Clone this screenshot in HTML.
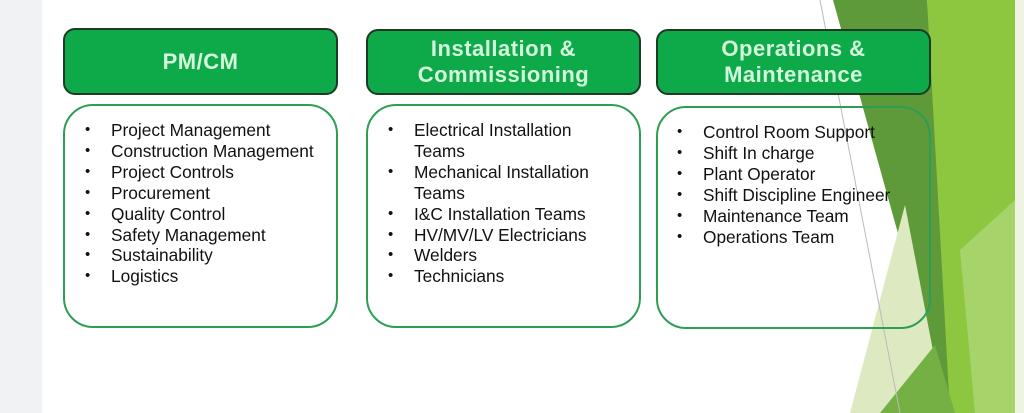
<!DOCTYPE html>
<html><head><meta charset="utf-8"><style>
body{margin:0;width:1024px;height:413px;overflow:hidden;background:#fff;font-family:"Liberation Sans",sans-serif;position:relative}
.l{position:absolute;left:0;top:0;width:42px;height:413px;background:#f1f2f4}
svg{position:absolute;left:0;top:0}
.h{position:absolute;background:#0eaa4a;border:2px solid #1d3a22;border-radius:12px;color:#d4f7dc;font-size:22px;font-weight:bold;text-align:center;display:flex;align-items:center;justify-content:center;line-height:26px;box-sizing:border-box;letter-spacing:0.5px}
.b{position:absolute;border:2.5px solid #2e9e55;border-radius:30px;box-sizing:border-box}
ul{position:absolute;margin:0;padding:0;list-style:none;font-size:17.3px;line-height:20.9px;color:#111}
li{position:relative;padding-left:48px}
li:before{content:"•";position:absolute;left:22px;font-size:15px}
</style></head><body>
<div class="l"></div>
<svg width="1024" height="413">
<polygon points="833,0 927,0 962,413 948,413" fill="#5e9a3a"/>
<polygon points="927,0 1015,0 1015,413 950,413" fill="#8dc63f"/>
<polygon points="850,413 905,205 945,413" fill="#dde9c0"/>
<polygon points="880,413 935,345 955,413" fill="#74b044"/>
<polygon points="960,250 1015,200 1015,413 975,413" fill="#a6d36a"/>
<rect x="1015" y="0" width="9" height="413" fill="#eef3e4"/>
<line x1="820" y1="0" x2="900" y2="413" stroke="#bbb" stroke-width="1"/>
</svg>
<div class="h" style="left:63px;top:28px;width:275px;height:67px">PM/CM</div>
<div class="h" style="left:366px;top:29px;width:275px;height:66px">Installation &amp;<br>Commissioning</div>
<div class="h" style="left:656px;top:29px;width:275px;height:66px">Operations &amp;<br>Maintenance</div>
<div class="b" style="left:63px;top:104px;width:275px;height:224px"></div>
<div class="b" style="left:366px;top:104px;width:275px;height:224px"></div>
<div class="b" style="left:656px;top:106px;width:275px;height:223px"></div>
<ul style="left:63px;top:120px"><li>Project Management</li><li>Construction Management</li><li>Project Controls</li><li>Procurement</li><li>Quality Control</li><li>Safety Management</li><li>Sustainability</li><li>Logistics</li></ul>
<ul style="left:366px;top:120px"><li>Electrical Installation<br>Teams</li><li>Mechanical Installation<br>Teams</li><li>I&amp;C Installation Teams</li><li>HV/MV/LV Electricians</li><li>Welders</li><li>Technicians</li></ul>
<ul style="left:655px;top:122px"><li>Control Room Support</li><li>Shift In charge</li><li>Plant Operator</li><li>Shift Discipline Engineer</li><li>Maintenance Team</li><li>Operations Team</li></ul>
</body></html>
